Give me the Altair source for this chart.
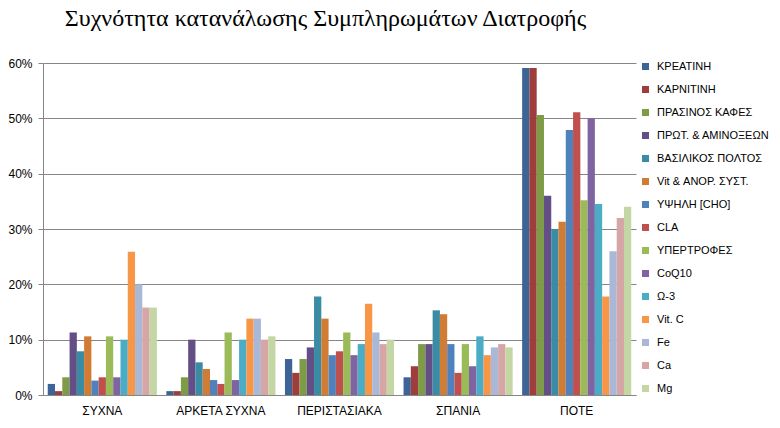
import altair as alt
import pandas as pd

categories = ["ΣΥΧΝΑ", "ΑΡΚΕΤΑ ΣΥΧΝΑ", "ΠΕΡΙΣΤΑΣΙΑΚΑ", "ΣΠΑΝΙΑ", "ΠΟΤΕ"]
series = ["ΚΡΕΑΤΙΝΗ", "ΚΑΡΝΙΤΙΝΗ", "ΠΡΑΣΙΝΟΣ ΚΑΦΕΣ", "ΠΡΩΤ. & ΑΜΙΝΟΞΕΩΝ",
          "ΒΑΣΙΛΙΚΟΣ ΠΟΛΤΟΣ", "Vit & ΑΝΟΡ. ΣΥΣΤ.", "ΥΨΗΛΗ [CHO]", "CLA",
          "ΥΠΕΡΤΡΟΦΕΣ", "CoQ10", "Ω-3", "Vit. C", "Fe", "Ca", "Mg"]
colors = ["#3C6496", "#9E3D3B", "#7E9B45", "#634E86", "#3A8BA4", "#D07C34",
          "#4F81BD", "#C0504D", "#9BBB59", "#8064A2", "#4BACC6", "#F79646",
          "#A9B8D6", "#D6A6A6", "#C4D6A4"]

# percentages per category, one value per series (in series order)
v_sychna      = [2.0, 0.7, 3.2, 11.3, 7.9, 10.6, 2.6, 3.2, 10.6, 3.2, 10.0, 25.9, 20.0, 15.8, 15.8]
v_arketa      = [0.7, 0.7, 3.2, 10.0, 5.9, 4.7, 2.7, 2.0, 11.3, 2.7, 10.0, 13.8, 13.8, 10.0, 10.6]
v_peristasiaka = [6.5, 4.0, 6.5, 8.6, 17.8, 13.8, 7.2, 7.9, 11.3, 7.2, 9.2, 16.5, 11.3, 9.2, 10.0]
v_spania      = [3.2, 5.2, 9.2, 9.2, 15.3, 14.6, 9.2, 4.0, 9.2, 5.2, 10.6, 7.2, 8.6, 9.2, 8.6]
v_pote        = [59.1, 59.1, 50.6, 36.0, 30.0, 31.3, 47.9, 51.1, 35.2, 50.0, 34.5, 17.8, 26.0, 32.0, 34.0]

all_vals = [v_sychna, v_arketa, v_peristasiaka, v_spania, v_pote]
rows = []
for c, vals in zip(categories, all_vals):
    for s, v in zip(series, vals):
        rows.append({"cat": c, "series": s, "value": v / 100.0})
df = pd.DataFrame(rows)

FONT = "Liberation Sans"

chart = alt.Chart(df).mark_bar().encode(
    x=alt.X("cat:N", sort=categories, title=None,
            scale=alt.Scale(paddingInner=0.08, paddingOuter=0.04),
            axis=alt.Axis(labelAngle=0, labelFont=FONT, labelFontSize=12, labelColor="#000000",
                          labelPadding=10, domainColor="#868686", ticks=False, grid=False)),
    xOffset=alt.XOffset("series:N", sort=series, scale=alt.Scale(paddingInner=0, paddingOuter=0)),
    y=alt.Y("value:Q", title=None,
            scale=alt.Scale(domain=[0, 0.6], nice=False),
            axis=alt.Axis(format="%", values=[0, 0.1, 0.2, 0.3, 0.4, 0.5, 0.6],
                          labelFont=FONT, labelFontSize=12, labelColor="#000000",
                          labelPadding=6, tickSize=5, tickColor="#868686",
                          domainColor="#868686", gridColor="#868686", grid=True)),
    color=alt.Color("series:N", sort=series,
                    scale=alt.Scale(domain=series, range=colors),
                    legend=alt.Legend(title=None, orient="none", legendX=597, legendY=-2,
                                      symbolType="square", symbolSize=49, symbolStrokeWidth=0,
                                      labelFont=FONT, labelFontSize=11, labelColor="#000000",
                                      rowPadding=11, labelOffset=6)),
).properties(
    width=593, height=332,
    title=alt.TitleParams("Συχνότητα κατανάλωσης Συμπληρωμάτων Διατροφής",
                          font="Liberation Serif", fontSize=24, fontWeight="normal",
                          color="#000000", anchor="middle", dx=-14, offset=26),
    autosize=alt.AutoSizeParams(type="none"),
    padding={"left": 43, "top": 63, "right": 144, "bottom": 33},
    background="white",
).configure_view(stroke=None)

chart.save("out.html", embed_options={"renderer": "svg", "actions": False})
